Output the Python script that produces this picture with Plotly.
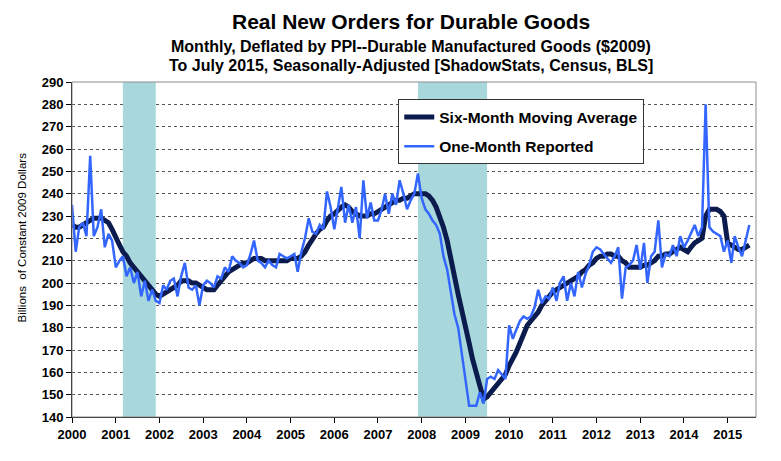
import pandas as pd
import plotly.graph_objects as go

# monthly, Jan 2000 .. Jul 2015, billions of constant 2009 dollars
one_month = [
    235, 214, 225, 227, 221, 257, 221, 225, 233, 216, 222, 219,  # 2000
    207, 210, 212, 203, 207, 200, 205, 194, 201, 192, 197, 192,  # 2001
    191, 199, 197, 201, 202, 194, 203, 209, 198, 197, 199, 190,  # 2002
    199, 201, 200, 198, 203, 202, 207, 205, 212, 210, 209, 207,  # 2003
    208, 213, 219, 210, 209, 207, 210, 208, 207, 213, 212, 211,  # 2004
    212, 213, 205, 214, 220, 229, 223, 222, 226, 224, 241, 234,  # 2005
    224, 235, 243, 227, 235, 227, 234, 220, 246, 229, 236, 228,  # 2006
    228, 233, 240, 231, 240, 235, 246, 240, 233, 237, 240, 249,  # 2007
    238, 233, 231, 228, 226, 222, 212, 206, 196, 186, 180, 168,  # 2008
    157, 145, 145, 145, 151, 146, 157, 158, 157, 161, 159, 157,  # 2009
    181, 175, 179, 183, 185, 184, 185, 189, 197, 191, 194, 193,  # 2010
    198, 192, 200, 203, 192, 200, 194, 205, 198, 204, 208, 214,  # 2011
    216, 215, 213, 211, 209, 212, 216, 193, 207, 208, 210, 217,  # 2012
    206, 218, 200, 212, 214, 228, 207, 213, 212, 217, 212, 221,  # 2013
    216, 219, 222, 226, 221, 225, 280, 225, 223, 222, 221, 214,  # 2014
    219, 209, 221, 216, 212, 219, 226,                           # 2015
]

six_month_avg = [
    226, 225, 225, 226, 227, 228, 229, 229, 229, 228, 227, 224,  # 2000
    220, 217, 214, 212, 209, 207, 205, 203, 201, 199, 197, 195,  # 2001
    194, 195, 196, 197, 198, 199, 201, 201, 201, 200, 200, 199,  # 2002
    198, 197, 197, 197, 199, 201, 203, 205, 206, 207, 208, 209,  # 2003
    209, 210, 211, 211, 211, 210, 210, 210, 210, 210, 210, 210,  # 2004
    211, 211, 211, 212, 214, 217, 220, 222, 224, 225, 228, 230,  # 2005
    231, 233, 234, 235, 234, 232, 231, 230, 230, 230, 231, 231,  # 2006
    232, 233, 234, 235, 236, 237, 237, 238, 238, 239, 240, 240,  # 2007
    240, 240, 239, 237, 234, 230, 225, 219, 212, 203, 195, 187,  # 2008
    180, 173, 166, 160, 154, 148, 149, 151, 153, 155, 157, 159,  # 2009
    163, 166, 169, 173, 177, 181, 183, 185, 187, 190, 192, 194,  # 2010
    196, 197, 198, 199, 200, 201, 202, 203, 205, 206, 208, 209,  # 2011
    211, 212, 212, 213, 213, 212, 212, 210, 209, 207, 207, 207,  # 2012
    207, 208, 208, 209, 210, 212, 212, 213, 213, 214, 215, 216,  # 2013
    215, 214, 216, 218, 219, 220, 230, 233, 233, 233, 232, 230,  # 2014
    218, 217, 216, 215, 215, 216, 217,                           # 2015
]

recession_starts = ["2001-03-01", "2007-12-01"]
recession_ends = ["2001-12-01", "2009-07-01"]

year_ticks = [str(y) for y in range(2000, 2016)]
y_range = [140, 290]

dates = pd.date_range("2000-01-01", periods=len(one_month), freq="MS")

fig = go.Figure()

# recession bands as filled traces so they sit above the gridlines
for s, e in zip(recession_starts, recession_ends):
    fig.add_trace(go.Scatter(
        x=[s, s, e, e], y=[y_range[0], y_range[1], y_range[1], y_range[0]],
        mode="none", fill="toself", fillcolor="#A8D8DC",
        showlegend=False, hoverinfo="skip",
    ))

fig.add_trace(go.Scatter(
    x=dates, y=six_month_avg, mode="lines",
    name="Six-Month Moving Average", legendgroup="a",
    line=dict(color="#0B1B4D", width=5),
))
fig.add_trace(go.Scatter(
    x=dates, y=one_month, mode="lines",
    name="One-Month Reported", legendgroup="b",
    line=dict(color="#3366FF", width=2.5),
))

# frame around the plot area
fig.add_shape(type="rect", xref="x domain", yref="y domain",
              x0=0, x1=1, y0=0, y1=1,
              line=dict(color="#8C8C8C", width=1), layer="above")

font_family = "Arial, Liberation Sans, sans-serif"

titles = [
    ("Real New Orders for Durable Goods", 21, 1.180),
    ("Monthly, Deflated by PPI--Durable Manufactured Goods ($2009)", 16, 1.107),
    ("To July 2015, Seasonally-Adjusted [ShadowStats, Census, BLS]", 16, 1.048),
]
for text, size, ypos in titles:
    fig.add_annotation(text="<b>%s</b>" % text, xref="paper", yref="paper",
                       x=0.495, y=ypos, xanchor="center", yanchor="middle",
                       showarrow=False,
                       font=dict(size=size, color="black", family=font_family))

# y axis title
fig.add_annotation(text="Billions  of Constant 2009 Dollars",
                   xref="paper", yref="paper", x=-0.073, y=0.536,
                   xanchor="center", yanchor="middle", textangle=-90,
                   showarrow=False,
                   font=dict(size=11.5, color="black", family=font_family))

# page body adds an 8px offset at top/left, so the figure is 8px smaller
fig.update_layout(
    width=773, height=453,
    margin=dict(l=64, r=25, t=74, b=44),
    paper_bgcolor="white", plot_bgcolor="white",
    font=dict(family=font_family, color="black"),
    showlegend=True,
    legend=dict(
        x=0.477, y=0.948, xanchor="left", yanchor="top",
        bgcolor="white", bordercolor="#333333", borderwidth=1,
        font=dict(size=15.5, color="black", family=font_family, weight="bold"),
        traceorder="grouped", tracegroupgap=6,
    ),
)

fig.update_xaxes(
    type="date",
    range=["2000-01-01", "2015-08-26"],
    tickvals=[y + "-01-01" for y in year_ticks],
    ticktext=["<b>%s</b>" % y for y in year_ticks],
    tickfont=dict(size=13, color="black"),
    ticks="outside", ticklen=5, tickcolor="black",
    showline=True, linecolor="black", linewidth=1,
    showgrid=False, zeroline=False,
)

fig.update_yaxes(
    range=y_range,
    dtick=10, tick0=140,
    tickfont=dict(size=13, color="black", weight="bold"),
    ticks="outside", ticklen=5, tickcolor="black",
    showline=True, linecolor="black", linewidth=1,
    showgrid=True, gridcolor="#555555", griddash="dot", gridwidth=1,
    zeroline=False,
)

fig.write_html("out.html")
